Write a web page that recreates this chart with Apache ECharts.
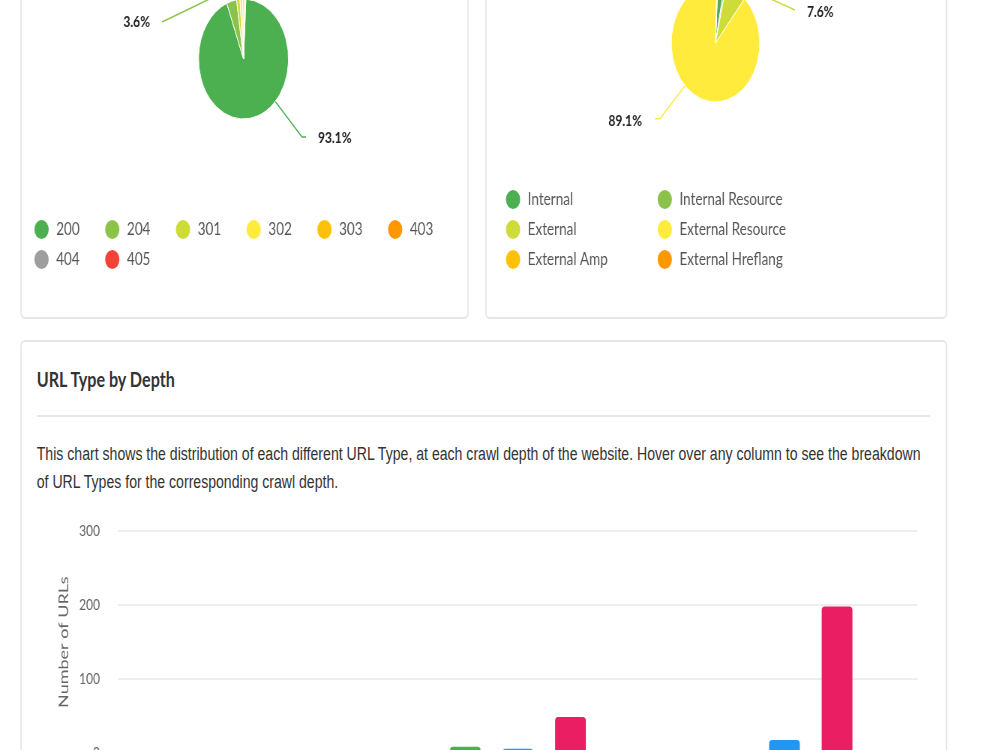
<!DOCTYPE html>
<html>
<head>
<meta charset="utf-8">
<script src="https://cdn.jsdelivr.net/npm/echarts@6/dist/echarts.min.js"></script>
<style>
  html, body { margin: 0; padding: 0; background: #fff; overflow: hidden; width: 1000px; height: 750px; }
  /* the reference is squeezed horizontally, so lay out at 1333px and scale x by 0.75 */
  #page { position: absolute; left: 0; top: 0; width: 1333.33px; height: 800px; transform: scaleX(0.75); transform-origin: 0 0; }
  .card { position: absolute; box-sizing: border-box; border: 2px solid #e6e6e6; border-radius: 6px; background: #fff; }
  #card1 { left: 27px; top: -120px; width: 598px; height: 439px; }
  #card2 { left: 647px; top: -120px; width: 616px; height: 439px; }
  #card3 { left: 27px; top: 340px; width: 1236px; height: 520px; }
  #title { position: absolute; left: 49px; top: 366px; font-family: Lato, sans-serif; font-weight: bold; font-size: 21.5px; line-height: 26px; color: #333; }
  #sep { position: absolute; left: 49px; top: 415px; width: 1191px; height: 2px; background: #e8e8e8; }
  #desc { position: absolute; left: 49px; top: 440px; font-family: "Liberation Sans", Arial, sans-serif; font-size: 18.8px; line-height: 28px; color: #333; white-space: nowrap; }
  #chart { position: absolute; left: 0; top: 0; width: 1333.33px; height: 800px; }
</style>
</head>
<body>
<div id="page">
  <div class="card" id="card1"></div>
  <div class="card" id="card2"></div>
  <div class="card" id="card3"></div>
  <div id="title">URL Type by Depth</div>
  <div id="sep"></div>
  <div id="desc">This chart shows the distribution of each different URL Type, at each crawl depth of the website. Hover over any column to see the breakdown<br>of URL Types for the corresponding crawl depth.</div>
  <div id="chart"></div>
</div>
<script>
// status code share (%)
const statusNames = ['200', '204', '301', '302', '303', '403', '404', '405']
const statusShare = [93.1, 3.6, 1.2, 0.9, 0.5, 0.3, 0.2, 0.2]
// link type share (%)
const linkNames = ['Internal', 'Internal Resource', 'External', 'External Resource', 'External Amp', 'External Hreflang']
const linkShare = [2.4, 0.6, 7.6, 89.1, 0.2, 0.1]
// url type by crawl depth
const depths = ['0', '1', '2']
const typeNames = ['HTML', 'JavaScript', 'Image']
const htmlCounts = [0, 9, 0]
const jsCounts = [0, 6, 18]
const imageCounts = [0, 49, 198]
const yTicks = { min: 0, max: 300, interval: 100 }

const statusColors = ['#4caf50', '#8bc34a', '#cddc39', '#ffeb3b', '#ffc107', '#ff9800', '#9e9e9e', '#f44336']
const linkColors = ['#4caf50', '#8bc34a', '#cddc39', '#ffeb3b', '#ffc107', '#ff9800']
const barColors = ['#4caf50', '#2196f3', '#e91e63']

const FONT = 'Lato'
const pie1 = { cx: 324.7, cy: 59, r: 60 }
const pie2 = { cx: 954, cy: 43, r: 59 }

// point on a pie edge, angle clockwise from 12 o'clock
function edge (p, deg) {
  const a = deg * Math.PI / 180
  return [p.cx + p.r * Math.sin(a), p.cy - p.r * Math.cos(a)]
}

// where the visible labels sit (the screenshot is cut off at the top)
const pie1Labels = {
  0: { x: 424, y: 138, align: 'left', pts: [edge(pie1, 135), [402.7, 137], [408, 137]] },
  1: { x: 200, y: 22, align: 'right', pts: [[310, -12.5], [263, 5], [216, 22]] }
}
const pie2Labels = {
  2: { x: 1076, y: 12, align: 'left', pts: [[1001.4, -10], [1030.7, 0], [1060, 10]] },
  3: { x: 856, y: 121, align: 'right', pts: [edge(pie2, 223.5), [880, 118.5], [873.3, 119]] }
}

function placeLabels (table) {
  return function (params) {
    const l = table[params.dataIndex]
    if (!l) return {}
    return { x: l.x, y: l.y, align: l.align, verticalAlign: 'middle', labelLinePoints: l.pts }
  }
}

function pieSeries (p, names, values, colors, labels) {
  return {
    type: 'pie',
    center: [p.cx, p.cy],
    radius: p.r,
    startAngle: 87,
    clockwise: true,
    percentPrecision: 1,
    minShowLabelAngle: 10,
    avoidLabelOverlap: false,
    data: names.map((n, i) => ({ name: n, value: values[i], itemStyle: { color: colors[i] } })),
    itemStyle: { borderColor: '#fff', borderWidth: 1 },
    label: {
      formatter: '{d}%',
      fontFamily: FONT,
      fontWeight: 'bold',
      fontSize: 16,
      color: '#222'
    },
    labelLine: { show: true, lineStyle: { width: 1.5 } },
    labelLayout: placeLabels(labels)
  }
}

const legendText = {
  fontFamily: FONT,
  fontSize: 18,
  color: '#555',
  lineHeight: 17,
  padding: [0, 0, 0, 4]
}

const myChart = echarts.init(document.getElementById('chart'))
const option = {
  animation: false,
  legend: [
    {
      data: statusNames,
      left: 43.9,
      top: 218,
      width: 560,
      padding: 0,
      icon: 'circle',
      itemWidth: 21,
      itemHeight: 21,
      itemGap: 7,
      textStyle: Object.assign({ width: 56.3 }, legendText)
    },
    {
      data: linkNames,
      left: 672.6,
      top: 188,
      width: 400,
      padding: 0,
      icon: 'circle',
      itemWidth: 21,
      itemHeight: 21,
      itemGap: 7,
      textStyle: Object.assign({ width: 164.3 }, legendText)
    }
  ],
  grid: { left: 157.3, right: 109.3, top: 531, bottom: 46.7 },
  xAxis: {
    type: 'category',
    data: depths,
    axisLine: { lineStyle: { color: '#ccc' } },
    axisTick: { show: false },
    axisLabel: { fontFamily: FONT, fontSize: 16, color: '#666' }
  },
  yAxis: {
    type: 'value',
    min: yTicks.min,
    max: yTicks.max,
    interval: yTicks.interval,
    name: 'Number of URLs',
    nameLocation: 'middle',
    nameGap: 63,
    nameTextStyle: { fontFamily: FONT, fontSize: 18, color: '#666' },
    axisLine: { show: false },
    axisTick: { show: false },
    axisLabel: { fontFamily: FONT, fontSize: 16, color: '#666', margin: 24 },
    splitLine: { lineStyle: { color: '#e8e8e8', width: 1.5 } }
  },
  series: [
    pieSeries(pie1, statusNames, statusShare, statusColors, pie1Labels),
    pieSeries(pie2, linkNames, linkShare, linkColors, pie2Labels),
    ...[htmlCounts, jsCounts, imageCounts].map((d, i) => ({
      name: typeNames[i],
      type: 'bar',
      data: d,
      barWidth: 41,
      barGap: '71%',
      itemStyle: { color: barColors[i], borderRadius: [4, 4, 0, 0] }
    }))
  ]
}
myChart.setOption(option)
</script>
</body>
</html>
